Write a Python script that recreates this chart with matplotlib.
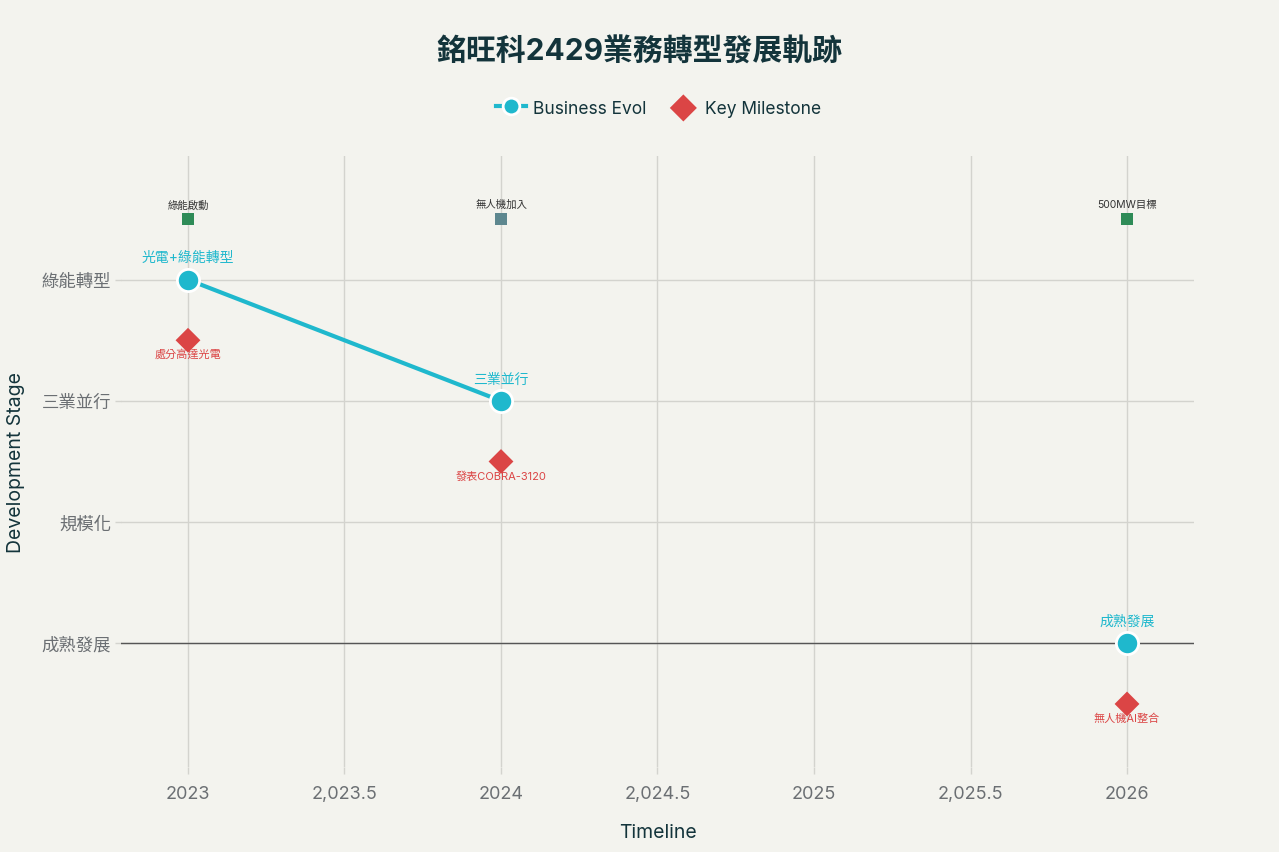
import numpy as np
import matplotlib.pyplot as plt
from matplotlib.ticker import FuncFormatter

plt.rcParams['font.family'] = ['Inter', 'Noto Sans CJK TC', 'DejaVu Sans']

# data
years = [2023, 2024, 2025, 2026]
stage = [3, 2, np.nan, 0]
stage_text = ['光電+綠能轉型', '三業並行', '', '成熟發展']
stage_names = ['成熟發展', '規模化', '三業並行', '綠能轉型']

ms_years = [2023, 2024, 2026]
ms_y = [2.5, 1.5, -0.5]
ms_text = ['處分高達光電', '發表COBRA-3120', '無人機AI整合']

ev_years = [2023, 2024, 2026]
ev_y = [3.5, 3.5, 3.5]
ev_text = ['綠能啟動', '無人機加入', '500MW目標']
ev_colors = ['#2E8B57', '#5D878F', '#2E8B57']

bg = '#F3F3EE'
cyan = '#1FB8CD'
red = '#DB4545'
dark = '#13343B'

fig = plt.figure(figsize=(12.79, 8.53), dpi=100, facecolor=bg)
ax = fig.add_axes([121/1279, 1-768/853, (1194-121)/1279, (768-157)/853])
ax.set_facecolor(bg)

ax.plot(years, stage, color=cyan, lw=3, marker='o', ms=16,
        markeredgecolor='white', markeredgewidth=2, label='Business Evol', zorder=4)
for x, y, t in zip(years, stage, stage_text):
    if t:
        ax.annotate(t, (x, y), xytext=(0, 11), textcoords='offset points',
                    ha='center', va='bottom', color=cyan, fontsize=10)

ax.scatter(ms_years, ms_y, marker='D', s=160, color=red, edgecolors='none',
           label='Key Milestone', zorder=4)
for x, y, t in zip(ms_years, ms_y, ms_text):
    ax.annotate(t, (x, y), xytext=(0, -6), textcoords='offset points',
                ha='center', va='top', color=red, fontsize=8)

ax.scatter(ev_years, ev_y, marker='s', s=80, c=ev_colors, edgecolors='none', zorder=4)
for x, y, t in zip(ev_years, ev_y, ev_text):
    ax.annotate(t, (x, y), xytext=(0, 7), textcoords='offset points',
                ha='center', va='bottom', color='#333333', fontsize=7.5)

ax.set_xlim(2022.786, 2026.214)
ax.set_ylim(-1.02, 4.02)
ax.set_xticks(np.arange(2023, 2026.01, 0.5))


def fmt(v, pos):
    if abs(v - round(v)) < 1e-9:
        return '%d' % round(v)
    return '{:,.1f}'.format(v)


ax.xaxis.set_major_formatter(FuncFormatter(fmt))
ax.set_yticks(range(4))
ax.set_yticklabels(stage_names)
ax.grid(True, color='#D3D3CE', lw=1)
ax.axhline(0, color='#555555', lw=1, zorder=2)
ax.set_axisbelow(True)
for s in ax.spines.values():
    s.set_visible(False)
ax.tick_params(axis='both', colors='#D3D3CE', labelcolor='#6B6F73', length=5, width=1,
               labelsize=13, pad=3)
ax.tick_params(axis='y', length=4, pad=3, labelsize=12.5)
ax.tick_params(axis='x', pad=8)

ax.set_xlabel('Timeline', fontsize=14, color=dark, labelpad=15)
ax.set_ylabel('Development Stage', fontsize=14, color=dark, labelpad=12)

fig.text(0.5, 1-52/853, '銘旺科2429業務轉型發展軌跡', ha='center', va='center',
         fontsize=21.5, fontweight='bold', color=dark)
leg = fig.legend(loc='center', bbox_to_anchor=(0.515, 1-109/853), ncol=2, frameon=False,
                 fontsize=12.5, labelcolor=dark, handlelength=1.7, handletextpad=0.4,
                 columnspacing=1.3)
leg.legend_handles[0].set_markersize(12)
leg.legend_handles[1].set_sizes([190])

fig.savefig('out.png', dpi=100, facecolor=bg)
